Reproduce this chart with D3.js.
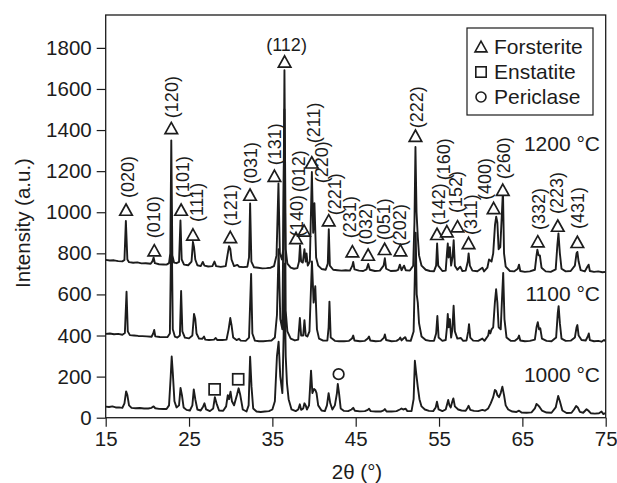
<!DOCTYPE html>
<html>
<head>
<meta charset="utf-8">
<script src="https://cdn.jsdelivr.net/npm/d3@7"></script>
<style>
  html, body { margin: 0; padding: 0; background: #ffffff; }
  svg { display: block; font-family: "Liberation Sans", Arial, Helvetica, sans-serif; }
</style>
</head>
<body>
<svg id="chart" width="617" height="483"></svg>
<script>
// ---------------- DATA ----------------
const xTicks = [15, 25, 35, 45, 55, 65, 75];
const yTicks = [0, 200, 400, 600, 800, 1000, 1200, 1400, 1600, 1800];
const xTitle = "2θ (°)";
const yTitle = "Intensity (a.u.)";

const seriesNames = ["1200 °C", "1100 °C", "1000 °C"];
const seriesLabelIntensity = [1299, 570, 175];

const trace1200 = [[15.0,768],[15.5,765],[16.0,766],[16.5,762],[17.0,761],[17.25,768],[17.42,958],[17.6,770],[17.8,757],[18.3,754],[18.8,756],[19.3,751],[19.8,752],[20.4,749],[20.62,762],[20.75,780],[20.9,752],[21.4,747],[21.9,746],[22.3,745],[22.6,752],[22.75,800],[22.87,1350],[23.0,790],[23.2,755],[23.5,752],[23.8,758],[23.97,960],[24.12,770],[24.4,745],[24.9,742],[25.3,760],[25.47,856],[25.6,830],[25.75,770],[26.0,742],[26.4,738],[26.65,758],[26.85,740],[27.3,736],[27.8,738],[28.05,760],[28.25,738],[28.8,734],[29.4,738],[29.65,800],[29.8,835],[29.95,822],[30.1,770],[30.4,738],[30.8,744],[31.0,735],[31.5,733],[32.0,735],[32.2,780],[32.33,1043],[32.48,760],[32.8,732],[33.3,730],[33.8,727],[34.3,728],[34.8,730],[35.2,738],[35.5,790],[35.73,1140],[35.9,800],[36.15,770],[36.3,820],[36.45,1691],[36.6,820],[36.8,750],[37.2,730],[37.6,725],[38.0,728],[38.2,760],[38.32,840],[38.45,760],[38.65,755],[38.85,820],[39.0,760],[39.1,800],[39.25,740],[39.5,760],[39.74,1196],[39.9,900],[40.05,1044],[40.25,780],[40.5,740],[40.9,724],[41.4,720],[41.65,750],[41.77,917],[41.9,740],[42.3,720],[42.8,718],[43.3,716],[43.8,718],[44.3,716],[44.6,740],[44.7,758],[44.85,722],[45.4,716],[45.9,714],[46.3,722],[46.5,748],[46.7,720],[47.3,714],[47.9,716],[48.35,740],[48.5,776],[48.65,725],[49.2,714],[49.8,715],[50.1,720],[50.3,745],[50.5,718],[50.8,740],[51.0,718],[51.5,716],[51.9,740],[52.05,950],[52.17,1318],[52.3,1000],[52.45,880],[52.6,790],[52.9,740],[53.4,720],[53.9,714],[54.4,713],[54.65,740],[54.77,848],[54.9,740],[55.4,714],[55.8,716],[55.95,800],[56.05,848],[56.15,780],[56.3,830],[56.45,740],[56.62,780],[56.76,864],[56.9,740],[57.2,720],[57.55,735],[57.8,714],[58.2,716],[58.45,760],[58.55,800],[58.7,740],[59.0,716],[59.6,713],[60.2,730],[60.4,712],[60.8,730],[61.0,770],[61.3,760],[61.5,800],[61.72,940],[61.86,978],[62.0,950],[62.15,820],[62.35,830],[62.55,1000],[62.67,1107],[62.8,800],[63.0,735],[63.5,714],[64.0,712],[64.45,725],[64.6,745],[64.75,714],[65.3,710],[65.9,712],[66.5,720],[66.7,790],[66.8,818],[66.95,790],[67.1,790],[67.3,730],[67.8,712],[68.4,710],[69.0,722],[69.2,840],[69.33,897],[69.5,800],[69.7,725],[70.2,712],[70.8,714],[71.3,740],[71.5,800],[71.6,807],[71.75,760],[72.0,718],[72.5,712],[72.8,735],[72.95,745],[73.1,714],[73.6,710],[74.1,712],[74.6,708],[75.0,710]];

const trace1100 = [[15.0,408],[15.5,410],[16.0,406],[16.5,408],[17.0,404],[17.3,412],[17.5,613],[17.65,420],[17.9,402],[18.4,400],[18.9,398],[19.4,397],[19.9,396],[20.5,394],[20.7,410],[20.82,427],[20.95,396],[21.5,393],[22.0,392],[22.4,392],[22.7,410],[22.9,1000],[23.05,430],[23.3,395],[23.6,390],[23.9,400],[24.05,617],[24.2,420],[24.5,390],[25.0,386],[25.4,400],[25.6,505],[25.75,480],[25.9,410],[26.2,385],[26.6,384],[26.8,395],[26.95,380],[27.4,378],[28.0,380],[28.2,388],[28.4,378],[29.0,378],[29.5,380],[29.75,430],[29.95,485],[30.1,450],[30.3,390],[30.7,378],[31.0,384],[31.2,375],[31.8,374],[32.2,390],[32.45,700],[32.6,410],[32.9,375],[33.4,372],[33.9,372],[34.4,374],[34.9,376],[35.3,390],[35.55,500],[35.75,820],[35.95,480],[36.2,430],[36.45,1500],[36.6,520],[36.8,420],[37.2,385],[37.7,376],[38.1,380],[38.3,485],[38.45,400],[38.7,400],[38.85,475],[39.0,400],[39.2,395],[39.45,420],[39.75,760],[39.95,560],[40.15,640],[40.35,430],[40.6,385],[41.1,375],[41.6,376],[41.75,440],[41.85,565],[42.0,390],[42.5,374],[43.0,372],[43.6,372],[44.2,374],[44.55,385],[44.7,400],[44.85,376],[45.5,372],[46.1,374],[46.45,385],[46.6,395],[46.75,376],[47.4,372],[48.0,374],[48.4,390],[48.5,405],[48.65,378],[49.3,372],[49.9,374],[50.2,382],[50.35,390],[50.5,376],[50.8,388],[50.95,392],[51.1,376],[51.6,374],[51.95,420],[52.1,700],[52.2,900],[52.32,600],[52.45,560],[52.6,460],[52.9,395],[53.4,378],[53.9,374],[54.4,374],[54.65,410],[54.8,495],[54.95,390],[55.4,374],[55.8,378],[55.95,440],[56.05,505],[56.15,440],[56.3,480],[56.45,390],[56.6,430],[56.75,545],[56.9,420],[57.2,385],[57.6,388],[57.9,374],[58.3,376],[58.5,420],[58.6,455],[58.75,390],[59.1,375],[59.7,374],[60.2,385],[60.45,374],[60.9,400],[61.0,425],[61.15,410],[61.3,430],[61.5,440],[61.7,560],[61.85,625],[62.0,560],[62.15,440],[62.4,430],[62.58,600],[62.7,705],[62.85,480],[63.1,390],[63.6,374],[64.1,374],[64.45,385],[64.6,400],[64.75,376],[65.3,372],[65.9,374],[66.5,380],[66.7,440],[66.85,465],[67.0,430],[67.15,435],[67.35,385],[67.9,374],[68.5,372],[69.05,390],[69.25,510],[69.35,543],[69.5,460],[69.7,385],[70.2,374],[70.8,375],[71.3,390],[71.5,440],[71.6,451],[71.75,400],[72.1,378],[72.6,376],[72.85,395],[72.97,410],[73.1,378],[73.6,372],[74.1,374],[74.5,370],[74.8,378],[75.0,372]];

const trace1000 = [[15.0,54],[15.4,52],[15.8,55],[16.2,50],[16.6,50],[17.0,48],[17.25,70],[17.45,128],[17.6,110],[17.8,60],[18.1,48],[18.6,46],[19.1,47],[19.6,45],[20.1,45],[20.5,48],[20.75,55],[20.95,46],[21.4,43],[21.9,42],[22.3,42],[22.6,60],[22.8,200],[22.92,298],[23.05,220],[23.25,80],[23.5,50],[23.8,60],[23.98,145],[24.15,110],[24.35,50],[24.7,38],[25.1,35],[25.4,60],[25.57,138],[25.75,90],[26.0,40],[26.4,35],[26.7,55],[26.85,70],[27.05,40],[27.5,32],[27.9,45],[28.1,100],[28.3,70],[28.6,35],[29.1,34],[29.45,55],[29.65,110],[29.8,90],[29.98,127],[30.15,80],[30.4,60],[30.75,110],[30.95,143],[31.15,110],[31.45,40],[31.9,30],[32.15,60],[32.33,297],[32.5,150],[32.7,45],[33.1,30],[33.6,28],[34.1,30],[34.6,32],[35.0,40],[35.3,80],[35.55,300],[35.75,370],[35.95,200],[36.2,120],[36.35,400],[36.45,750],[36.6,300],[36.75,169],[36.95,90],[37.3,40],[37.8,32],[38.1,40],[38.3,65],[38.45,38],[38.7,45],[38.85,70],[39.0,60],[39.15,40],[39.4,60],[39.64,229],[39.8,120],[40.0,140],[40.15,135],[40.3,120],[40.5,60],[40.9,35],[41.3,32],[41.55,60],[41.75,119],[41.95,70],[42.2,40],[42.5,60],[42.75,120],[42.85,164],[43.0,120],[43.2,45],[43.6,33],[44.1,32],[44.5,40],[44.7,48],[44.9,34],[45.5,31],[46.1,32],[46.45,38],[46.6,44],[46.8,32],[47.4,30],[48.0,30],[48.35,36],[48.5,42],[48.7,30],[49.3,30],[49.9,32],[50.3,40],[50.5,45],[50.7,40],[51.0,44],[51.2,32],[51.7,32],[51.95,90],[52.1,277],[52.25,220],[52.45,150],[52.65,90],[52.9,55],[53.3,40],[53.8,33],[54.3,32],[54.6,50],[54.75,78],[54.95,40],[55.4,32],[55.8,40],[56.0,70],[56.1,86],[56.25,60],[56.4,50],[56.6,80],[56.72,94],[56.9,55],[57.3,40],[57.7,35],[58.2,34],[58.45,50],[58.55,58],[58.75,38],[59.2,33],[59.7,32],[60.2,38],[60.5,34],[60.9,45],[61.2,70],[61.5,100],[61.7,135],[61.85,130],[62.0,110],[62.2,100],[62.4,120],[62.6,151],[62.8,110],[63.0,60],[63.3,40],[63.8,30],[64.3,28],[64.6,34],[64.9,25],[65.5,24],[66.1,26],[66.5,45],[66.7,67],[66.9,60],[67.1,50],[67.35,35],[67.9,25],[68.5,24],[69.0,50],[69.3,106],[69.5,80],[69.8,35],[70.3,23],[70.9,24],[71.2,40],[71.45,57],[71.65,50],[71.9,28],[72.3,24],[72.7,41],[72.9,35],[73.2,22],[73.7,20],[74.2,22],[74.5,30],[74.7,18],[75.0,22]];

// Forsterite markers: [2θ, intensity]
const forsteriteMarks = [[17.44,1010],[20.83,812],[22.87,1407],[24.05,1010],[25.47,889],[29.95,877],[32.32,1083],[35.25,1175],[36.47,1731],[37.84,872],[38.8,908],[39.73,1240],[41.76,958],[44.6,807],[46.49,791],[48.47,819],[50.37,812],[52.17,1370],[54.76,892],[55.94,905],[57.22,929],[58.54,848],[61.55,1018],[62.65,1107],[66.85,856],[69.25,932],[71.6,853]];
// Miller index labels: [text, 2θ, intensity at text start]
const millerLabels = [["(020)",17.62,1069],["(010)",20.80,874],["(120)",22.96,1458],["(101)",24.28,1069],["(111)",25.90,952],["(121)",29.98,932],["(031)",32.38,1137],["(131)",35.32,1229],["(140)",37.96,879],["(012)",38.20,1097],["(211)",40.0,1336],["(220)",40.96,1141],["(221)",42.52,985],["(231)",44.32,874],["(032)",46.24,840],["(051)",48.40,864],["(202)",50.32,835],["(222)",52.30,1409],["(142)",54.94,937],["(160)",55.54,1156],["(152)",57.04,996],["(311)",58.84,889],["(400)",60.52,1059],["(260)",62.74,1161],["(332)",67.0,913],["(223)",69.16,991],["(431)",71.62,918]];
const topLabel = ["(112)", 36.7, 1815];

const enstatiteMarks = [[28.07,138],[30.9,187]];
const periclaseMarks = [[42.95,212]];

const legendNames = ["Forsterite", "Enstatite", "Periclase"];

// ---------------- CHART ----------------
const svg = d3.select("#chart");
const m = { left: 105.7, right: 605.7, top: 15, bottom: 417.7 };
const ink = "#1c1c1c";

const x = d3.scaleLinear().domain([15, 75]).range([m.left, m.right]);
const y = d3.scaleLinear().domain([0, 1960]).range([m.bottom, m.top]);

svg.append("defs").append("clipPath").attr("id", "clip")
  .append("rect").attr("x", m.left).attr("y", m.top)
  .attr("width", m.right - m.left).attr("height", m.bottom - m.top);

// traces
const line = d3.line().x(d => x(d[0])).y(d => y(d[1]));
const traces = [trace1200, trace1100, trace1000];
svg.append("g").attr("clip-path", "url(#clip)")
  .selectAll("path").data(traces).join("path")
  .attr("d", line)
  .attr("fill", "none")
  .attr("stroke", ink)
  .attr("stroke-width", 1.9)
  .attr("stroke-linejoin", "round");

// axes
const xAxis = d3.axisBottom(x).tickValues(xTicks).tickFormat(d3.format("d"))
  .tickSize(9).tickSizeOuter(0).tickPadding(5);
const yAxis = d3.axisLeft(y).tickValues(yTicks).tickFormat(d3.format("d"))
  .tickSize(9).tickSizeOuter(0).tickPadding(5);

const gx = svg.append("g").attr("transform", `translate(0,${m.bottom})`).call(xAxis);
const gy = svg.append("g").attr("transform", `translate(${m.left},0)`).call(yAxis);
[gx, gy].forEach(g => {
  g.select(".domain").remove();
  g.selectAll(".tick line").attr("stroke", ink).attr("stroke-width", 1.2);
  g.selectAll(".tick text").attr("fill", ink).style("font-size", "20.5px")
    .style("font-family", "'Liberation Sans', Arial, sans-serif");
});
gx.selectAll(".tick text").attr("dy", "0.75em").attr("y", 13);

// frame
svg.append("rect")
  .attr("x", m.left).attr("y", m.top)
  .attr("width", m.right - m.left).attr("height", m.bottom - m.top)
  .attr("fill", "none").attr("stroke", ink).attr("stroke-width", 1.3);

// axis titles
svg.append("text").attr("x", 357).attr("y", 479)
  .attr("text-anchor", "middle").attr("fill", ink).style("font-size", "20.5px")
  .text(xTitle);
svg.append("text").attr("transform", "translate(30,223) rotate(-90)")
  .attr("text-anchor", "middle").attr("fill", ink).style("font-size", "20.5px")
  .text(yTitle);

// series labels
svg.append("g").selectAll("text").data(seriesNames).join("text")
  .attr("x", 600).attr("y", (d, i) => y(seriesLabelIntensity[i]))
  .attr("text-anchor", "end").attr("fill", ink).style("font-size", "21px")
  .text(d => d);

// symbols
const sqSize = 11, circR = 5.3;
const triPath = (cx, cy, s) => {
  const h = s * 0.9;
  return `M${cx},${cy - h * 0.55} L${cx + s / 2},${cy + h * 0.45} L${cx - s / 2},${cy + h * 0.45} Z`;
};

const markG = svg.append("g");
markG.selectAll("path.fo").data(forsteriteMarks).join("path")
  .attr("class", "fo")
  .attr("d", d => triPath(x(d[0]), y(d[1]), 12.5))
  .attr("fill", "#fff").attr("stroke", ink).attr("stroke-width", 1.7)
  .attr("stroke-linejoin", "miter");

markG.selectAll("rect.en").data(enstatiteMarks).join("rect")
  .attr("class", "en")
  .attr("x", d => x(d[0]) - sqSize / 2).attr("y", d => y(d[1]) - sqSize / 2)
  .attr("width", sqSize).attr("height", sqSize)
  .attr("fill", "#fff").attr("stroke", ink).attr("stroke-width", 1.7);

markG.selectAll("circle.pe").data(periclaseMarks).join("circle")
  .attr("class", "pe")
  .attr("cx", d => x(d[0])).attr("cy", d => y(d[1])).attr("r", circR)
  .attr("fill", "#fff").attr("stroke", ink).attr("stroke-width", 1.7);

// miller labels (rotated)
svg.append("g").selectAll("text").data(millerLabels).join("text")
  .attr("transform", d => `translate(${x(d[1])},${y(d[2])}) rotate(-90)`)
  .attr("dy", "0.35em")
  .attr("text-anchor", "start").attr("fill", ink).style("font-size", "18px")
  .text(d => d[0]);

svg.append("text")
  .attr("x", x(topLabel[1])).attr("y", y(topLabel[2]))
  .attr("dy", "0.35em")
  .attr("text-anchor", "middle").attr("fill", ink).style("font-size", "18px")
  .text(topLabel[0]);

// legend
const lg = svg.append("g");
lg.append("rect").attr("x", 467).attr("y", 28).attr("width", 126).attr("height", 87)
  .attr("fill", "#fff").attr("stroke", ink).attr("stroke-width", 1.2);
const rows = [47, 72, 97];
lg.append("path").attr("d", triPath(481, rows[0], 12)).attr("fill", "none")
  .attr("stroke", ink).attr("stroke-width", 1.6);
lg.append("rect").attr("x", 481 - 5.2).attr("y", rows[1] - 5.2).attr("width", 10.4).attr("height", 10.4)
  .attr("fill", "none").attr("stroke", ink).attr("stroke-width", 1.6);
lg.append("circle").attr("cx", 481).attr("cy", rows[2]).attr("r", 5)
  .attr("fill", "none").attr("stroke", ink).attr("stroke-width", 1.6);
lg.selectAll("text").data(legendNames).join("text")
  .attr("x", 494).attr("y", (d, i) => rows[i] + 7)
  .attr("fill", ink).style("font-size", "21px")
  .text(d => d);
</script>
</body>
</html>
